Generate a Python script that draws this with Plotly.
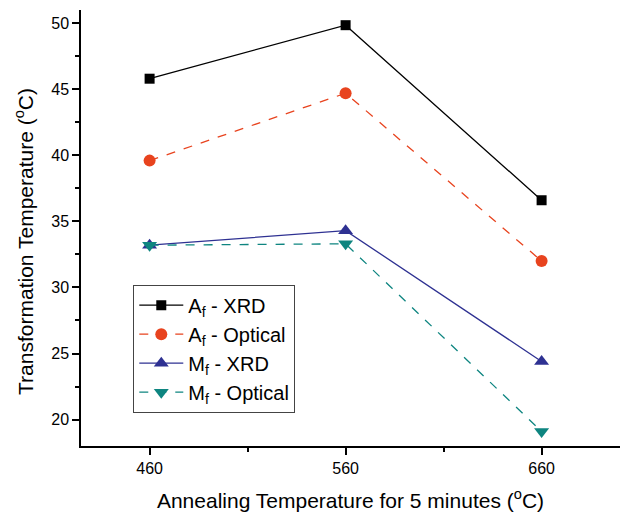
import plotly.graph_objects as go

anneal_temp = [460, 560, 660]
af_xrd = [45.8, 49.85, 36.6]
af_optical = [39.6, 44.7, 32.0]
mf_xrd = [33.2, 34.3, 24.4]
mf_optical = [33.2, 33.3, 19.1]

names = ["A<sub>f</sub> - XRD", "A<sub>f</sub> - Optical",
         "M<sub>f</sub> - XRD", "M<sub>f</sub> - Optical"]
x_ticks = [460, 560, 660]
y_ticks = [20, 25, 30, 35, 40, 45, 50]

styles = [
    dict(color="#000000", dash="solid", symbol="square", size=10),
    dict(color="#E8431E", dash="dash", symbol="circle", size=12),
    dict(color="#2E3192", dash="solid", symbol="triangle-up", size=13),
    dict(color="#0E8580", dash="dash", symbol="triangle-down", size=13),
]

fig = go.Figure()
for name, ys, st in zip(names, [af_xrd, af_optical, mf_xrd, mf_optical], styles):
    fig.add_trace(go.Scatter(
        x=anneal_temp, y=ys, name=name, mode="lines+markers",
        line=dict(color=st["color"], width=1.3, dash=st["dash"]),
        marker=dict(symbol=st["symbol"], size=st["size"], color=st["color"]),
    ))

font_family = "Liberation Sans, Arial, sans-serif"
fig.update_layout(
    width=621, height=517,
    margin=dict(l=81, r=1, t=10, b=71),
    plot_bgcolor="white", paper_bgcolor="white",
    font=dict(family=font_family, size=16, color="black"),
    showlegend=True,
    legend=dict(x=0.097, y=0.37, xanchor="left", yanchor="top",
                bordercolor="#444", borderwidth=1, bgcolor="white",
                font=dict(size=20, family=font_family), tracegroupgap=0,
                itemwidth=44),
    xaxis=dict(range=[425, 700], tickvals=x_ticks, ticks="outside", ticklen=7,
               tickwidth=1.5, tickcolor="black", showline=True, linecolor="black",
               linewidth=1.5, showgrid=False, zeroline=False,
               minor=dict(ticklen=4, dtick=50, tick0=460, ticks="outside",
                          tickcolor="black", tickwidth=1.5, showgrid=False),
               tickfont=dict(size=16),
               title=dict(text="Annealing Temperature for 5 minutes (<sup>o</sup>C)",
                          font=dict(size=21), standoff=17)),
    yaxis=dict(range=[18, 51], tickvals=y_ticks, ticks="outside", ticklen=7,
               tickwidth=1.5, tickcolor="black", showline=True, linecolor="black",
               linewidth=1.5, showgrid=False, zeroline=False,
               minor=dict(ticklen=4, dtick=2.5, tick0=20, ticks="outside",
                          tickcolor="black", tickwidth=1.5, showgrid=False),
               tickfont=dict(size=16)),
    annotations=[dict(text="Transformation Temperature (<sup>o</sup>C)",
                      xref="paper", yref="paper", x=-0.079, y=0.469,
                      xanchor="right", yanchor="middle", textangle=-90,
                      showarrow=False, font=dict(size=21))],
)

fig.write_html("out.html")
